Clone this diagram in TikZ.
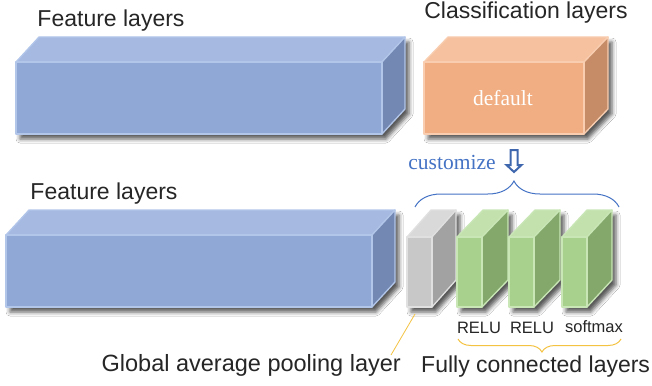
\documentclass[tikz,border=0pt]{standalone}
\usepackage{fontspec}
\setmainfont{Liberation Serif}
\newfontfamily\labfont{Liberation Sans}
\usetikzlibrary{shadows.blur,decorations.pathreplacing}
\definecolor{blueF}{HTML}{8FA8D6}
\definecolor{blueT}{HTML}{A6B9E1}
\definecolor{blueS}{HTML}{7388B3}
\definecolor{blueB}{HTML}{B2C6EA}
\definecolor{orangeF}{HTML}{F0AE82}
\definecolor{orangeT}{HTML}{F5C19E}
\definecolor{orangeS}{HTML}{C58C67}
\definecolor{orangeB}{HTML}{F8CDB0}
\definecolor{grayF}{HTML}{C8C8C8}
\definecolor{grayT}{HTML}{D9D9D9}
\definecolor{grayS}{HTML}{A2A2A2}
\definecolor{grayB}{HTML}{E0E0E0}
\definecolor{greenF}{HTML}{A9D18E}
\definecolor{greenT}{HTML}{C3E1AC}
\definecolor{greenS}{HTML}{84A86C}
\definecolor{greenB}{HTML}{C9E6B6}
\definecolor{txt}{HTML}{262626}
\definecolor{custblue}{HTML}{4472C4}
\definecolor{arrowblue}{HTML}{3F67AE}
\definecolor{bracegold}{HTML}{F5C342}
\tikzset{
  face/.style={line width=1.3pt, line join=round},
  lab/.style={inner sep=0pt, text=txt, font=\labfont},
  biglab/.style={lab, font=\labfont\fontsize{23}{27}\selectfont},
  smalllab/.style={lab, font=\labfont\fontsize{16.5}{19}\selectfont},
}
% #1 name, #2 x, #3 y, #4 w, #5 h, #6 dx, #7 dy, #8 colour prefix
\newcommand\cuboid[8]{%
  \path[blur shadow={shadow xshift=4pt, shadow yshift=-5pt, shadow blur radius=4pt, shadow opacity=65}]
    (#2,#3) -- ++(#6,-#7) -- ++(#4,0) -- ++(0,#5) -- ++(-#6,#7) -- ++(-#4,0) -- cycle;
  \filldraw[face, fill=#8T, draw=#8B] (#2,#3) -- ++(#6,-#7) -- ++(#4,0) -- ++(-#6,#7) -- cycle;
  \filldraw[face, fill=#8S, draw=#8B] (#2+#4,#3) -- ++(#6,-#7) -- ++(0,#5) -- ++(-#6,#7) -- cycle;
  \filldraw[face, fill=#8F, draw=#8B] (#2,#3) rectangle ++(#4,#5);
  \coordinate (#1) at (#2+#4/2,#3+#5/2);
}
\begin{document}
\begin{tikzpicture}[x=1pt,y=-1pt]
\useasboundingbox (0,0) rectangle (652,385);
\fill[white] (0,0) rectangle (652,385);

% top row
\cuboid{ftopbox}{16}{62}{366}{72}{23}{25}{blue}
\cuboid{clsbox}{424}{62}{160}{72}{24}{25}{orange}
\node[inner sep=0pt, text=white, font=\fontsize{21.5}{24}\selectfont] (def) at (503,98) {default};

\node[biglab] (ftop) at (111,21) {Feature layers};
\node[biglab] (cls) at (526,13) {Classification layers};

% customize
\node[inner sep=0pt, text=custblue, font=\fontsize{21.5}{24}\selectfont] (cust) at (452,162) {customize};
\coordinate (arr) at (514,150);
\filldraw[fill=white, draw=arrowblue, line width=2pt, line join=miter]
  (arr) ++(-3.5,0) -- ++(7,0) -- ++(0,15) -- ++(4,0) -- (514,172) -- (506.5,165) -- ++(4,0) -- cycle;

% blue brace
\coordinate (bb1) at (415,207);
\coordinate (bb2) at (619,207);
\draw[custblue, line width=1pt, decorate, decoration={brace, amplitude=26pt, aspect=0.485}] (bb1) -- (bb2);

% bottom row
\cuboid{fbotbox}{6}{235}{366}{72}{23}{25}{blue}
\cuboid{gap}{407}{237}{25}{70}{24}{27}{gray}
\cuboid{fc1}{457}{237}{25}{70}{26}{27}{green}
\cuboid{fc2}{509}{237}{25}{70}{26}{27}{green}
\cuboid{fc3}{562}{237}{25}{70}{25}{27}{green}

\node[biglab] (fbot) at (104,194) {Feature layers};

\node[smalllab] (r1) at (479,328) {RELU};
\node[smalllab] (r2) at (532,328) {RELU};
\node[smalllab] (sm) at (594,327) {softmax};

% orange brace
\coordinate (ob1) at (621,339);
\coordinate (ob2) at (458,339);
\draw[bracegold, line width=1pt, decorate, decoration={brace, amplitude=13pt, aspect=0.485}] (ob1) -- (ob2);

\node[biglab, anchor=west] (fcl) at (421,367) {Fully connected layers};
\node[lab, anchor=east, font=\labfont\fontsize{23.5}{27}\selectfont] (glob) at (401,365) {Global average pooling layer};

\coordinate (gapline) at (415,314);
\coordinate (globline) at (391,355);
\draw[bracegold, line width=0.8pt] (gapline) -- (globline);
\end{tikzpicture}
\end{document}
